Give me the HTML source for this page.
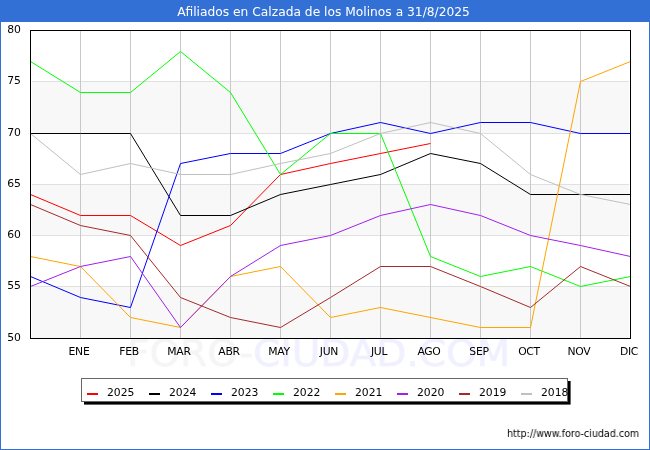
<!DOCTYPE html><html><head><meta charset="utf-8"><title>Afiliados en Calzada de los Molinos</title>
<style>
html,body{margin:0;padding:0;background:#fff;}
body{width:650px;height:450px;position:relative;overflow:hidden;font-family:"DejaVu Sans","Liberation Sans",sans-serif;}
#frame{position:absolute;left:0;top:0;width:648px;height:448px;border:1px solid #3370d6;background:#fff;}
#title{will-change:transform;position:absolute;left:0;top:0;width:650px;height:22px;background:#3370d6;color:#fff;font-size:12.25px;line-height:25px;text-align:center;text-indent:-3px;white-space:nowrap;}
.t{position:absolute;will-change:transform;font-size:10.8px;line-height:12px;color:#000;white-space:nowrap;}
.yl{width:24px;text-align:right;left:-3.1px;}
.xl{width:60px;text-align:center;letter-spacing:-0.3px;}
#wm{-webkit-text-stroke:0.3px #f5f5f5;position:absolute;left:127.4px;top:332px;font-size:36.5px;line-height:44px;white-space:nowrap;color:#f5f5f5;transform-origin:0 0;transform:scaleX(1.068);}
#wm span{color:#f0f0ff;-webkit-text-stroke:0.3px #f0f0ff;}
</style></head><body>
<div id="frame"></div>
<div id="title">Afiliados en Calzada de los Molinos a 31/8/2025</div>
<div id="wm">FORO-<span>CIUDAD.COM</span></div>
<svg width="650" height="450" viewBox="0 0 650 450" style="position:absolute;left:0;top:0">
<rect x="30" y="30" width="601" height="309" fill="#fff"/>
<rect x="32" y="81" width="597" height="52" fill="#f8f8f8"/>
<rect x="32" y="184" width="597" height="51" fill="#f8f8f8"/>
<rect x="32" y="286" width="597" height="52" fill="#f8f8f8"/>
<rect x="32" y="81" width="597" height="1" fill="#e0e0e0"/>
<rect x="32" y="133" width="597" height="1" fill="#e0e0e0"/>
<rect x="32" y="184" width="597" height="1" fill="#e0e0e0"/>
<rect x="32" y="235" width="597" height="1" fill="#e0e0e0"/>
<rect x="32" y="286" width="597" height="1" fill="#e0e0e0"/>
<rect x="80" y="31" width="1" height="307" fill="#c8c8c8"/>
<rect x="130" y="31" width="1" height="307" fill="#c8c8c8"/>
<rect x="180" y="31" width="1" height="307" fill="#c8c8c8"/>
<rect x="230" y="31" width="1" height="307" fill="#c8c8c8"/>
<rect x="280" y="31" width="1" height="307" fill="#c8c8c8"/>
<rect x="330" y="31" width="1" height="307" fill="#c8c8c8"/>
<rect x="380" y="31" width="1" height="307" fill="#c8c8c8"/>
<rect x="430" y="31" width="1" height="307" fill="#c8c8c8"/>
<rect x="480" y="31" width="1" height="307" fill="#c8c8c8"/>
<rect x="530" y="31" width="1" height="307" fill="#c8c8c8"/>
<rect x="580" y="31" width="1" height="307" fill="#c8c8c8"/>
<polyline points="30.5,194.5 80.5,215.5 130.5,215.5 180.5,245.5 230.5,225.5 280.5,174.5 330.5,163.5 380.5,153.5 430.5,143.5" fill="none" stroke="#ff0000" stroke-width="1" stroke-linejoin="round"/>
<polyline points="30.5,133.5 80.5,133.5 130.5,133.5 180.5,215.5 230.5,215.5 280.5,194.5 330.5,184.5 380.5,174.5 430.5,153.5 480.5,163.5 530.5,194.5 580.5,194.5 630.5,194.5" fill="none" stroke="#000000" stroke-width="1" stroke-linejoin="round"/>
<polyline points="30.5,276.5 80.5,297.5 130.5,307.5 180.5,163.5 230.5,153.5 280.5,153.5 330.5,133.5 380.5,122.5 430.5,133.5 480.5,122.5 530.5,122.5 580.5,133.5 630.5,133.5" fill="none" stroke="#0000ff" stroke-width="1" stroke-linejoin="round"/>
<polyline points="30.5,61.5 80.5,92.5 130.5,92.5 180.5,51.5 230.5,92.5 280.5,174.5 330.5,133.5 380.5,133.5 430.5,256.5 480.5,276.5 530.5,266.5 580.5,286.5 630.5,276.5" fill="none" stroke="#00ff00" stroke-width="1" stroke-linejoin="round"/>
<polyline points="30.5,256.5 80.5,266.5 130.5,317.5 180.5,327.5 230.5,276.5 280.5,266.5 330.5,317.5 380.5,307.5 430.5,317.5 480.5,327.5 530.5,327.5 580.5,81.5 630.5,61.5" fill="none" stroke="#ffa500" stroke-width="1" stroke-linejoin="round"/>
<polyline points="30.5,286.5 80.5,266.5 130.5,256.5 180.5,327.5 230.5,276.5 280.5,245.5 330.5,235.5 380.5,215.5 430.5,204.5 480.5,215.5 530.5,235.5 580.5,245.5 630.5,256.5" fill="none" stroke="#a020f0" stroke-width="1" stroke-linejoin="round"/>
<polyline points="30.5,204.5 80.5,225.5 130.5,235.5 180.5,297.5 230.5,317.5 280.5,327.5 330.5,297.5 380.5,266.5 430.5,266.5 480.5,286.5 530.5,307.5 580.5,266.5 630.5,286.5" fill="none" stroke="#a52a2a" stroke-width="1" stroke-linejoin="round"/>
<polyline points="30.5,133.5 80.5,174.5 130.5,163.5 180.5,174.5 230.5,174.5 280.5,163.5 330.5,153.5 380.5,133.5 430.5,122.5 480.5,133.5 530.5,174.5 580.5,194.5 630.5,204.5" fill="none" stroke="#c0c0c0" stroke-width="1" stroke-linejoin="round"/>
<rect x="30.5" y="30.5" width="600" height="308" fill="none" stroke="#000" stroke-width="1"/>
<rect x="84" y="381" width="486.6" height="23.6" fill="#000"/>
<rect x="81.5" y="378.5" width="486" height="23" fill="#fff" stroke="#666" stroke-width="1"/>
<rect x="87" y="393" width="11" height="2" fill="#ff0000"/>
<rect x="149" y="393" width="11" height="2" fill="#000000"/>
<rect x="211" y="393" width="11" height="2" fill="#0000ff"/>
<rect x="273" y="393" width="11" height="2" fill="#00ff00"/>
<rect x="335" y="393" width="11" height="2" fill="#ffa500"/>
<rect x="397" y="393" width="11" height="2" fill="#a020f0"/>
<rect x="459" y="393" width="11" height="2" fill="#a52a2a"/>
<rect x="521" y="393" width="11" height="2" fill="#c0c0c0"/>
</svg>
<div class="t yl" style="top:24px">80</div>
<div class="t yl" style="top:75px">75</div>
<div class="t yl" style="top:127px">70</div>
<div class="t yl" style="top:178px">65</div>
<div class="t yl" style="top:229px">60</div>
<div class="t yl" style="top:280px">55</div>
<div class="t yl" style="top:332px">50</div>
<div class="t xl" style="left:49.2px;top:346px">ENE</div>
<div class="t xl" style="left:99.2px;top:346px">FEB</div>
<div class="t xl" style="left:149.2px;top:346px">MAR</div>
<div class="t xl" style="left:199.2px;top:346px">ABR</div>
<div class="t xl" style="left:249.2px;top:346px">MAY</div>
<div class="t xl" style="left:299.2px;top:346px">JUN</div>
<div class="t xl" style="left:349.2px;top:346px">JUL</div>
<div class="t xl" style="left:399.2px;top:346px">AGO</div>
<div class="t xl" style="left:449.2px;top:346px">SEP</div>
<div class="t xl" style="left:499.2px;top:346px">OCT</div>
<div class="t xl" style="left:549.2px;top:346px">NOV</div>
<div class="t xl" style="left:599.2px;top:346px">DIC</div>
<div class="t" style="left:106.5px;top:387px">2025</div>
<div class="t" style="left:168.5px;top:387px">2024</div>
<div class="t" style="left:230.5px;top:387px">2023</div>
<div class="t" style="left:292.5px;top:387px">2022</div>
<div class="t" style="left:354.5px;top:387px">2021</div>
<div class="t" style="left:416.5px;top:387px">2020</div>
<div class="t" style="left:478.5px;top:387px">2019</div>
<div class="t" style="left:540.5px;top:387px">2018</div>
<div class="t" style="left:507px;top:428px;font-size:10px;transform-origin:0 0;transform:scaleX(0.952)">http://www.foro-ciudad.com</div>
</body></html>
